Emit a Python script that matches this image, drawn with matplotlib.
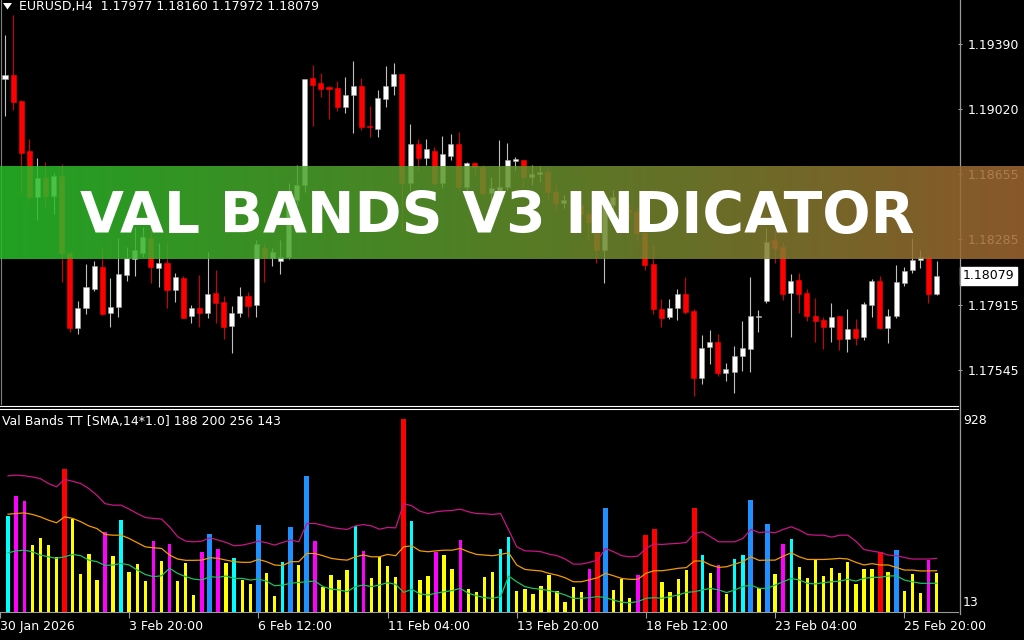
import numpy as np
import matplotlib
matplotlib.use('Agg')
import matplotlib.pyplot as plt
from matplotlib.transforms import blended_transform_factory

plt.rcParams['font.family'] = ['DejaVu Sans']

# ---------------- data ----------------
symbol_header = "EURUSD,H4  1.17977 1.18160 1.17972 1.18079"
indicator_header = "Val Bands TT [SMA,14*1.0] 188 200 256 143"
banner_title = "VAL BANDS V3 INDICATOR"

price_ticks = [1.19390, 1.19020, 1.18655, 1.18285, 1.17915, 1.17545]
xtick_bars = [-1, 15, 31, 47, 63, 79, 95, 111]
xtick_labels = ['30 Jan 2026', '3 Feb 20:00', '6 Feb 12:00', '11 Feb 04:00',
                '13 Feb 20:00', '18 Feb 12:00', '23 Feb 04:00', '25 Feb 20:00']
vol_max_label, vol_min_label = 928, 13

opens = [
    1.19192, 1.19215, 1.19067, 1.18784, 1.18524, 1.18632, 1.18530, 1.18643, 1.18207, 1.17783,
    1.17896, 1.18003, 1.18128, 1.17867, 1.17901, 1.18083, 1.18173, 1.18207, 1.18292, 1.18122,
    1.18150, 1.17998, 1.18066, 1.17850, 1.17896, 1.17867, 1.17981, 1.17930, 1.17794, 1.17867,
    1.17964, 1.17913, 1.18235, 1.18179, 1.18162, 1.18184, 1.18507, 1.18592, 1.19198, 1.19169,
    1.19147, 1.19141, 1.19033, 1.19101, 1.19152, 1.18926, 1.18909, 1.19079, 1.19152, 1.19220,
    1.18603, 1.18824, 1.18745, 1.18784, 1.18603, 1.18756, 1.18824, 1.18581, 1.18717, 1.18695,
    1.18547, 1.18552, 1.18581, 1.18728, 1.18733, 1.18637, 1.18654, 1.18666, 1.18552, 1.18490,
    1.18507, 1.18479, 1.18428, 1.18422, 1.18224, 1.18479, 1.18524, 1.18450, 1.18439, 1.18320,
    1.18145, 1.17890, 1.17845, 1.17896, 1.17975, 1.17879, 1.17500, 1.17675, 1.17703, 1.17528,
    1.17534, 1.17624, 1.17664, 1.17845, 1.17935, 1.18281, 1.18241, 1.17981, 1.18055, 1.17981,
    1.17850, 1.17829, 1.17788, 1.17850, 1.17720, 1.17777, 1.17732, 1.17913, 1.18049, 1.17783,
    1.17850, 1.18037, 1.18111, 1.18168, 1.18179, 1.17977]
highs = [
    1.19441, 1.19554, 1.19073, 1.18853, 1.18745, 1.18722, 1.18660, 1.18711, 1.18213, 1.17935,
    1.18145, 1.18162, 1.18241, 1.18066, 1.18292, 1.18241, 1.18354, 1.18354, 1.18360, 1.18264,
    1.18269, 1.18094, 1.18077, 1.17913, 1.18083, 1.18213, 1.18111, 1.17964, 1.17907, 1.18015,
    1.17986, 1.18281, 1.18264, 1.18235, 1.18281, 1.18603, 1.18705, 1.19192, 1.19271, 1.19226,
    1.19152, 1.19181, 1.19203, 1.19294, 1.19198, 1.19039, 1.19130, 1.19265, 1.19282, 1.19220,
    1.18937, 1.18853, 1.18853, 1.18807, 1.18869, 1.18881, 1.18892, 1.18722, 1.18722, 1.18705,
    1.18637, 1.18848, 1.18831, 1.18750, 1.18733, 1.18705, 1.18699, 1.18689, 1.18592, 1.18535,
    1.18535, 1.18490, 1.18450, 1.18439, 1.18490, 1.18564, 1.18552, 1.18479, 1.18462, 1.18479,
    1.18252, 1.17947, 1.17947, 1.18003, 1.18071, 1.17890, 1.17743, 1.17771, 1.17749, 1.17584,
    1.17681, 1.17822, 1.18071, 1.17884, 1.18349, 1.18337, 1.18269, 1.18088, 1.18094, 1.18003,
    1.17952, 1.17845, 1.17924, 1.17850, 1.17890, 1.17833, 1.17930, 1.18060, 1.18077, 1.17890,
    1.18139, 1.18128, 1.18292, 1.18224, 1.18196, 1.18160]
lows = [
    1.18982, 1.19016, 1.18547, 1.18507, 1.18394, 1.18462, 1.18428, 1.18043, 1.17760, 1.17749,
    1.17862, 1.17992, 1.17856, 1.17788, 1.17845, 1.18049, 1.18077, 1.18184, 1.18037, 1.18015,
    1.17896, 1.17930, 1.17839, 1.17811, 1.17788, 1.17839, 1.17811, 1.17720, 1.17641, 1.17845,
    1.17845, 1.17845, 1.18043, 1.18133, 1.18088, 1.18173, 1.18479, 1.18552, 1.18926, 1.19090,
    1.18966, 1.19011, 1.18999, 1.18887, 1.18903, 1.18865, 1.18865, 1.19033, 1.19101, 1.18326,
    1.18564, 1.18677, 1.18705, 1.18592, 1.18575, 1.18733, 1.18564, 1.18552, 1.18649, 1.18530,
    1.18450, 1.18530, 1.18564, 1.18677, 1.18581, 1.18592, 1.18609, 1.18507, 1.18450, 1.18462,
    1.18439, 1.18394, 1.18281, 1.18150, 1.18037, 1.18450, 1.18422, 1.18394, 1.18281, 1.18111,
    1.17862, 1.17788, 1.17833, 1.17829, 1.17862, 1.17398, 1.17466, 1.17579, 1.17511, 1.17483,
    1.17415, 1.17539, 1.17534, 1.17760, 1.17924, 1.18150, 1.17941, 1.17732, 1.17867, 1.17822,
    1.17703, 1.17664, 1.17703, 1.17658, 1.17647, 1.17686, 1.17715, 1.17845, 1.17777, 1.17698,
    1.17839, 1.18020, 1.18094, 1.18122, 1.17924, 1.17972]
closes = [
    1.19215, 1.19062, 1.18773, 1.18524, 1.18632, 1.18530, 1.18643, 1.18207, 1.17783, 1.17896,
    1.18015, 1.18133, 1.17862, 1.17901, 1.18088, 1.18179, 1.18224, 1.18298, 1.18128, 1.18150,
    1.17998, 1.18071, 1.17839, 1.17896, 1.17867, 1.17975, 1.17924, 1.17788, 1.17867, 1.17964,
    1.17907, 1.18258, 1.18179, 1.18213, 1.18184, 1.18490, 1.18592, 1.19192, 1.19158, 1.19135,
    1.19135, 1.19033, 1.19101, 1.19152, 1.18920, 1.18920, 1.19084, 1.19152, 1.19220, 1.18603,
    1.18824, 1.18745, 1.18797, 1.18603, 1.18768, 1.18824, 1.18581, 1.18717, 1.18695, 1.18547,
    1.18575, 1.18581, 1.18733, 1.18739, 1.18637, 1.18654, 1.18666, 1.18552, 1.18490, 1.18507,
    1.18479, 1.18428, 1.18383, 1.18224, 1.18479, 1.18524, 1.18450, 1.18439, 1.18320, 1.18139,
    1.17890, 1.17839, 1.17896, 1.17975, 1.17873, 1.17500, 1.17669, 1.17703, 1.17528, 1.17551,
    1.17624, 1.17669, 1.17850, 1.17850, 1.18269, 1.18235, 1.17975, 1.18049, 1.17975, 1.17850,
    1.17822, 1.17788, 1.17845, 1.17720, 1.17777, 1.17726, 1.17918, 1.18049, 1.17783, 1.17850,
    1.18043, 1.18105, 1.18168, 1.18184, 1.17975, 1.18079]

volume = [
    447, 538, 515, 316, 348, 316, 262, 660, 434, 185,
    275, 158, 375, 266, 429, 194, 230, 153, 334, 244,
    321, 153, 235, 90, 284, 366, 298, 235, 257, 158,
    140, 406, 189, 85, 239, 397, 226, 628, 334, 126,
    180, 158, 203, 402, 289, 167, 262, 221, 171, 886,
    425, 158, 176, 284, 271, 208, 339, 117, 104, 171,
    194, 298, 352, 108, 117, 95, 131, 180, 108, 58,
    126, 104, 208, 284, 483, 113, 162, 76, 180, 361,
    388, 149, 104, 162, 203, 483, 271, 189, 226, 95,
    253, 271, 520, 122, 411, 185, 321, 343, 217, 167,
    248, 176, 212, 189, 239, 140, 208, 208, 284, 194,
    293, 108, 185, 99, 248, 188]
# bar class: Y yellow, M magenta, C cyan, R red, B blue
volume_class = list(
    "CMMYYYYRYY" "YYMYCYYYMY" "MYYYMBMYCY" "YBYYCBYBMY" "YYYCMYYYYR"
    "CYYMYYMYYY" "YCCYYYYYYY" "YYMRBYYYMR" "RYYYYRCYMY" "CCBYBYMCYY"
    "YYYYYYYYRY" "BYYYMY")

band_upper = [
    630, 633, 630, 625, 617, 595, 580, 614, 605, 595,
    572, 542, 504, 497, 497, 479, 459, 441, 437, 434,
    399, 354, 334, 331, 334, 349, 339, 328, 313, 316,
    324, 334, 327, 316, 328, 339, 331, 414, 414, 406,
    396, 391, 387, 403, 409, 403, 388, 396, 394, 504,
    494, 470, 459, 467, 471, 473, 479, 467, 459, 458,
    455, 459, 384, 308, 290, 289, 286, 275, 268, 253,
    230, 230, 238, 248, 301, 286, 268, 263, 266, 301,
    321, 319, 322, 324, 328, 369, 376, 354, 331, 331,
    331, 346, 387, 373, 376, 372, 387, 399, 384, 364,
    361, 361, 352, 361, 361, 334, 296, 289, 283, 271,
    268, 260, 253, 253, 253, 256]
band_middle = [
    456, 459, 462, 455, 444, 429, 417, 444, 437, 422,
    403, 391, 364, 361, 361, 346, 327, 308, 304, 301,
    271, 253, 247, 247, 248, 259, 256, 248, 241, 238,
    238, 251, 241, 226, 223, 241, 241, 278, 278, 268,
    256, 251, 248, 263, 271, 263, 263, 274, 268, 308,
    313, 290, 286, 290, 293, 293, 301, 286, 274, 271,
    268, 274, 281, 226, 206, 202, 199, 188, 180, 168,
    150, 150, 159, 168, 188, 177, 165, 161, 161, 188,
    200, 200, 205, 211, 214, 244, 244, 226, 215, 218,
    230, 241, 263, 247, 248, 248, 266, 281, 263, 251,
    251, 251, 253, 256, 253, 238, 226, 232, 226, 226,
    215, 203, 203, 199, 199, 200]
band_lower = [
    281, 290, 293, 286, 271, 263, 256, 263, 274, 268,
    248, 241, 224, 226, 233, 226, 203, 183, 173, 177,
    211, 188, 173, 162, 158, 173, 170, 176, 165, 165,
    158, 162, 153, 132, 135, 143, 147, 150, 153, 128,
    117, 113, 105, 128, 135, 128, 135, 146, 138, 102,
    116, 95, 90, 98, 105, 110, 120, 98, 87, 78,
    75, 83, 176, 150, 128, 120, 116, 110, 102, 90,
    75, 75, 78, 83, 78, 67, 57, 55, 60, 75,
    78, 75, 83, 90, 102, 105, 113, 120, 113, 101,
    113, 128, 135, 120, 120, 135, 150, 165, 158, 143,
    140, 146, 150, 153, 161, 153, 165, 170, 170, 176,
    177, 158, 150, 143, 143, 143]

# ---------------- figure ----------------
W, H = 1024, 640
fig = plt.figure(figsize=(W / 100, H / 100), dpi=100, facecolor='black')


def rect(x0, y0, x1, y1):
    return [x0 / W, 1 - y1 / H, (x1 - x0) / W, (y1 - y0) / H]


FS = 9
GRAY = '#9A9A9A'
XLIM = (-0.617, 117.65)

# ---- main price panel ----
ax = fig.add_axes(rect(0, 0, 958, 404))
ax.set_facecolor('black')
ax.set_xlim(*XLIM)
ax.set_ylim(1.17354, 1.19639)
for s in ax.spines.values():
    s.set_visible(False)
ax.set_xticks([])
ax.yaxis.tick_right()
ax.set_yticks(price_ticks)
ax.set_yticklabels([f"{p:.5f}" for p in price_ticks])
ax.tick_params(axis='y', colors=GRAY, labelcolor='white', length=3, width=0.8,
               pad=4, labelsize=FS)

x = np.arange(len(opens))
o, hi, lo, c = (np.array(a) for a in (opens, highs, lows, closes))
bull = c >= o
ax.vlines(x[bull], lo[bull], hi[bull], color='#C0C0C0', lw=0.8, zorder=2)
ax.vlines(x[~bull], lo[~bull], hi[~bull], color='#D00000', lw=0.8, zorder=2)
bb = np.minimum(o, c)
bh = np.maximum(np.abs(c - o), 0.00007)
ax.bar(x[bull], bh[bull], bottom=bb[bull], width=0.62, color='white',
       edgecolor='#A0A0A0', linewidth=0.4, zorder=3)
ax.bar(x[~bull], bh[~bull], bottom=bb[~bull], width=0.62, color='#FF0000',
       edgecolor='#FF0000', linewidth=0.4, zorder=3)

# current price box
tr = blended_transform_factory(ax.transAxes, ax.transData)
ax.text(1.0045, closes[-1], f"{closes[-1]:.5f}", transform=tr, ha='left', va='center',
        fontsize=FS, color='black', clip_on=False, zorder=5,
        bbox=dict(boxstyle='square,pad=0.22', fc='white', ec='white'))

# ---- indicator panel ----
ax2 = fig.add_axes(rect(0, 410, 958, 612))
ax2.set_facecolor('black')
ax2.set_xlim(*XLIM)
ax2.set_ylim(vol_min_label, vol_max_label)
for k, s in ax2.spines.items():
    s.set_visible(k == 'bottom')
ax2.spines['bottom'].set_color(GRAY)
ax2.set_yticks([])
ax2.set_xticks(xtick_bars)
ax2.set_xticklabels(xtick_labels, ha='left')
ax2.tick_params(axis='x', colors=GRAY, labelcolor='white', length=4, width=0.8,
                pad=2, labelsize=FS)

col_map = {'Y': '#FFFF00', 'M': '#FF00FF', 'C': '#00FFFF', 'R': '#FF0000', 'B': '#1E90FF'}
wid_map = {'Y': 0.42, 'M': 0.42, 'C': 0.42, 'R': 0.62, 'B': 0.62}
ax2.bar(x, volume, width=[wid_map[k] for k in volume_class],
        color=[col_map[k] for k in volume_class], linewidth=0, zorder=2)
ax2.plot(x, band_upper, color='#C71585', lw=0.9, zorder=3)
ax2.plot(x, band_middle, color='#F39A00', lw=0.9, zorder=3)
ax2.plot(x, band_lower, color='#1DBE62', lw=0.9, zorder=3)

# ---- overlay (frame, headers, banner) ----
ov = fig.add_axes([0, 0, 1, 1], zorder=10)
ov.set_xlim(0, W)
ov.set_ylim(H, 0)
ov.axis('off')
ov.patch.set_alpha(0)

ov.plot([0, 958], [405.5, 405.5], color='white', lw=0.8)
ov.plot([0, 958], [408.5, 408.5], color='white', lw=0.8)
ov.plot([959.5, 959.5], [0, 614], color=GRAY, lw=0.9)
ov.plot([1, 1], [0, 404], color='#808080', lw=0.8)

ov.fill([3, 12, 7.5], [3, 3, 9.5], color='white', lw=0)
ov.text(19, 6.5, symbol_header, color='white', fontsize=FS, ha='left', va='center')
ov.text(2, 421, indicator_header, color='white', fontsize=FS, ha='left', va='center')
ov.text(963, 420, str(vol_max_label), color='white', fontsize=FS, ha='left', va='center')
ov.text(963, 603, str(vol_min_label), color='white', fontsize=FS, ha='left', va='center')

# banner with horizontal gradient
left_c = np.array([33, 162, 35]) / 255 / 0.86
right_c = np.array([138, 88, 42]) / 255 / 0.86
t = np.linspace(0, 1, 512)[None, :, None]
grad = np.clip(left_c * (1 - t) + right_c * t, 0, 1)
ov.imshow(grad, extent=(0, W, 259, 166), aspect='auto', alpha=0.86, zorder=15,
          interpolation='bilinear')
ov.set_xlim(0, W)
ov.set_ylim(H, 0)

txt = ov.text(497, 232.5, banner_title, ha='center', va='baseline', color='white',
              fontsize=42, fontfamily=['DejaVu Sans'],
              fontweight='bold', zorder=20)
fig.canvas.draw()
wpx = txt.get_window_extent().width
txt.set_fontsize(42 * 835 / wpx)

fig.savefig('out.png', dpi=100, facecolor='black')
